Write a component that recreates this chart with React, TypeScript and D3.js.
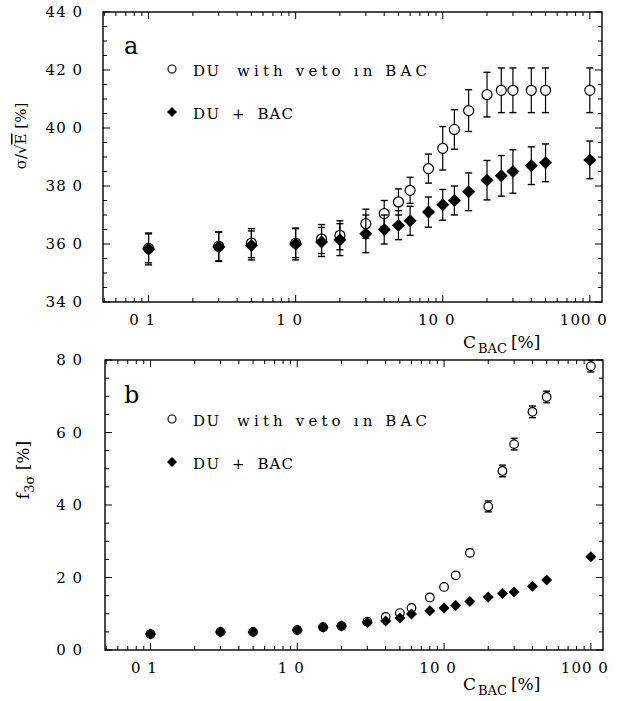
import React from "react";
import * as d3 from "d3";

const cBAC = [0.1, 0.3, 0.5, 1.0, 1.5, 2.0, 3.0, 4.0, 5.0, 6.0, 8.0, 10, 12, 15, 20, 25, 30, 40, 50, 100];

const resBAC = [35.83, 35.9, 35.95, 36.0, 36.07, 36.15, 36.35, 36.5, 36.65, 36.8, 37.1, 37.35, 37.5, 37.8, 38.2, 38.35, 38.5, 38.7, 38.8, 38.9];
const resBACErr = [0.55, 0.5, 0.5, 0.55, 0.5, 0.55, 0.65, 0.5, 0.5, 0.5, 0.52, 0.53, 0.5, 0.65, 0.68, 0.7, 0.75, 0.65, 0.65, 0.65];
const resVeto = [35.85, 35.92, 36.03, 36.03, 36.17, 36.3, 36.7, 37.05, 37.45, 37.85, 38.6, 39.3, 39.95, 40.6, 41.15, 41.3, 41.3, 41.3, 41.3, 41.3];
const resVetoErr = [0.5, 0.5, 0.5, 0.5, 0.5, 0.5, 0.5, 0.45, 0.45, 0.45, 0.5, 0.75, 0.68, 0.72, 0.77, 0.77, 0.77, 0.77, 0.77, 0.77];

const fBAC = [4.4, 5.0, 5.0, 5.5, 6.3, 6.6, 7.6, 8.0, 8.8, 9.9, 10.8, 11.6, 12.3, 13.4, 14.6, 15.6, 16.0, 17.6, 19.3, 25.7];
const fVeto = [4.4, 5.0, 5.0, 5.5, 6.3, 6.6, 7.8, 9.1, 10.2, 11.6, 14.5, 17.4, 20.6, 26.8, 39.6, 49.4, 56.8, 65.7, 69.8, 78.3];
const fVetoErr = [0.3, 0.3, 0.3, 0.3, 0.3, 0.3, 0.4, 0.4, 0.5, 0.5, 0.6, 0.7, 0.8, 1.0, 1.5, 1.6, 1.6, 1.6, 1.6, 1.6];

const xTickVals = [0.1, 1, 10, 100];
const xTickLabels = ["0 1", "1 0", "10 0", "100 0"];
const yTicksA = [34, 36, 38, 40, 42, 44];
const yTickLabelsA = ["34 0", "36 0", "38 0", "40 0", "42 0", "44 0"];
const yTicksB = [0, 20, 40, 60, 80];
const yTickLabelsB = ["0 0", "2 0", "4 0", "6 0", "8 0"];

const legendVeto = "with veto ın BAC";
const legendBAC = "+  BAC";

const SERIF = "'DejaVu Serif', 'Liberation Serif', serif";

function minorLogTicks(lo: number, hi: number) {
  const out: number[] = [];
  for (let e = -2; e <= 2; e++) {
    for (let m = 1; m <= 9; m++) {
      const v = m * Math.pow(10, e);
      if (v > lo && v < hi) out.push(v);
    }
  }
  return out;
}

function Diamond({ cx, cy, r }: { cx: number; cy: number; r: number }) {
  return <path d={`M${cx},${cy - r}L${cx + r},${cy}L${cx},${cy + r}L${cx - r},${cy}Z`} fill="#000" />;
}

type PanelProps = {
  left: number; right: number; top: number; bottom: number;
  yDomain: [number, number];
  yMajor: number[]; yLabels: string[]; yMinorStep: number;
  circ: number[]; circErr: number[]; dia: number[]; diaErr: number[] | null;
  markR: number; diaR: number; letter: string; letterY: number;
  legY1: number; legY2: number; titleY: number;
};

function Panel(p: PanelProps) {
  const x = d3.scaleLog().domain([0.049, 121]).range([p.left, p.right]);
  const y = d3.scaleLinear().domain(p.yDomain).range([p.bottom, p.top]);
  const minors = minorLogTicks(0.049, 121);
  const yMinor = d3.range(p.yDomain[0], p.yDomain[1] + 1e-9, p.yMinorStep);
  const capW = 3.5;
  return (
    <g>
      <rect x={p.left} y={p.top} width={p.right - p.left} height={p.bottom - p.top} fill="none" stroke="#000" strokeWidth={1.4} />
      {minors.map((v, i) => {
        const major = xTickVals.includes(v);
        const len = major ? 7 : 4;
        return (
          <g key={"xm" + i}>
            <line x1={x(v)} x2={x(v)} y1={p.bottom} y2={p.bottom - len} stroke="#000" strokeWidth={1} />
            <line x1={x(v)} x2={x(v)} y1={p.top} y2={p.top + len} stroke="#000" strokeWidth={1} />
          </g>
        );
      })}
      {yMinor.map((v, i) => {
        const major = p.yMajor.some((m) => Math.abs(m - v) < 1e-6);
        const len = major ? 7 : 4;
        return (
          <g key={"ym" + i}>
            <line x1={p.left} x2={p.left + len} y1={y(v)} y2={y(v)} stroke="#000" strokeWidth={1} />
            <line x1={p.right} x2={p.right - len} y1={y(v)} y2={y(v)} stroke="#000" strokeWidth={1} />
          </g>
        );
      })}
      {xTickVals.map((v, i) => (
        <text key={"xl" + i} x={x(v) - 6} y={p.bottom + 23} textAnchor="middle" fontFamily={SERIF} fontSize={15} letterSpacing={1}>
          {xTickLabels[i]}
        </text>
      ))}
      {p.yMajor.map((v, i) => (
        <text key={"yl" + i} x={83} y={y(v) + 5} textAnchor="end" fontFamily={SERIF} fontSize={15} letterSpacing={1}>
          {p.yLabels[i]}
        </text>
      ))}
      {cBAC.map((c, i) => {
        const cx = x(c);
        const y0 = y(p.circ[i] - p.circErr[i]);
        const y1 = y(p.circ[i] + p.circErr[i]);
        return (
          <g key={"c" + i}>
            <line x1={cx} x2={cx} y1={y0} y2={y1} stroke="#000" strokeWidth={1.2} />
            <line x1={cx - capW} x2={cx + capW} y1={y0} y2={y0} stroke="#000" strokeWidth={1.4} />
            <line x1={cx - capW} x2={cx + capW} y1={y1} y2={y1} stroke="#000" strokeWidth={1.4} />
            <circle cx={cx} cy={y(p.circ[i])} r={p.markR} fill="#fff" stroke="#000" strokeWidth={1.2} />
          </g>
        );
      })}
      {cBAC.map((c, i) => {
        const cx = x(c);
        const err = p.diaErr;
        return (
          <g key={"d" + i}>
            {err && (
              <g>
                <line x1={cx} x2={cx} y1={y(p.dia[i] - err[i])} y2={y(p.dia[i] + err[i])} stroke="#000" strokeWidth={1.2} />
                <line x1={cx - capW} x2={cx + capW} y1={y(p.dia[i] - err[i])} y2={y(p.dia[i] - err[i])} stroke="#000" strokeWidth={1.4} />
                <line x1={cx - capW} x2={cx + capW} y1={y(p.dia[i] + err[i])} y2={y(p.dia[i] + err[i])} stroke="#000" strokeWidth={1.4} />
              </g>
            )}
            <Diamond cx={cx} cy={y(p.dia[i])} r={p.diaR} />
          </g>
        );
      })}
      <text x={124} y={p.letterY} fontFamily={SERIF} fontSize={24}>{p.letter}</text>
      <circle cx={172} cy={p.legY1} r={4} fill="#fff" stroke="#000" strokeWidth={1.1} />
      <text x={193} y={p.legY1 + 7} fontFamily={SERIF} fontSize={15} letterSpacing={1.5}>DU</text>
      <text x={237} y={p.legY1 + 7} fontFamily={SERIF} fontSize={15} textLength={190} lengthAdjust="spacing" style={{ whiteSpace: "pre" }}>{legendVeto}</text>
      <Diamond cx={172} cy={p.legY2} r={5} />
      <text x={193} y={p.legY2 + 7} fontFamily={SERIF} fontSize={15} letterSpacing={1.5}>DU</text>
      <text x={232} y={p.legY2 + 7} fontFamily={SERIF} fontSize={15} textLength={61} lengthAdjust="spacing" style={{ whiteSpace: "pre" }}>{legendBAC}</text>
      <text y={p.titleY} fontFamily={SERIF}>
        <tspan x={463} fontSize={17}>C</tspan>
        <tspan fontSize={13} dy={5} dx={2}>BAC</tspan>
        <tspan fontSize={17} dy={-5} dx={4}>[%]</tspan>
      </text>
    </g>
  );
}

export default function App() {
  return (
    <svg width={626} height={701} style={{ position: "absolute", left: 0, top: 0, background: "#fff" }}>
      <rect width={626} height={701} fill="#fff" />
      <Panel left={103} right={602} top={12} bottom={302} yDomain={[34, 44]} yMajor={yTicksA} yLabels={yTickLabelsA} yMinorStep={0.5}
        circ={resVeto} circErr={resVetoErr} dia={resBAC} diaErr={resBACErr} markR={5} diaR={6.5} letter="a" letterY={54} legY1={69} legY2={112} titleY={348} />
      <Panel left={105} right={603} top={360} bottom={650} yDomain={[0, 80]} yMajor={yTicksB} yLabels={yTickLabelsB} yMinorStep={5}
        circ={fVeto} circErr={fVetoErr} dia={fBAC} diaErr={null} markR={4.3} diaR={5.5} letter="b" letterY={403} legY1={419} legY2={462} titleY={690} />
      <text transform="translate(26,136) rotate(-90)" textAnchor="middle" fontFamily={SERIF} fontSize={15}>
        σ/√<tspan style={{ textDecoration: "overline" }}>E</tspan> [%]
      </text>
      <text transform="translate(29,470) rotate(-90)" textAnchor="middle" fontFamily={SERIF} fontSize={17}>
        f<tspan fontSize={13} dy={5}>3σ</tspan><tspan dy={-5} fontSize={17}> [%]</tspan>
      </text>
    </svg>
  );
}
